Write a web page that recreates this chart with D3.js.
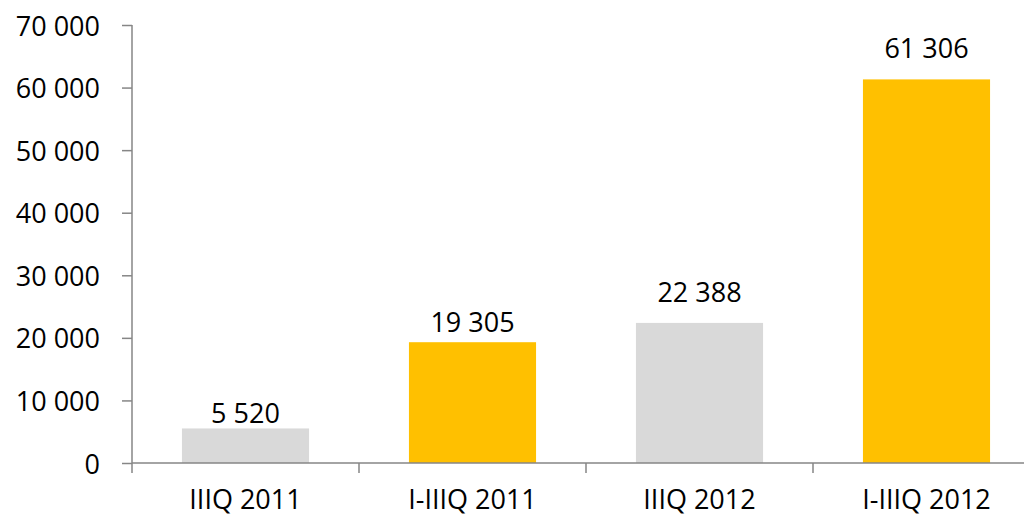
<!DOCTYPE html>
<html>
<head>
<meta charset="utf-8">
<script src="https://cdn.jsdelivr.net/npm/d3@7"></script>
<style>
    body { margin: 0; background: #ffffff; }
    svg { display: block; font-family: "Open Sans", sans-serif; }
    .axis path, .axis line { stroke: #868686; stroke-width: 1.5; }
</style>
</head>
<body>
<script>
//wrap everything in a self-executing anonymous function
(function(){

    //chart data
    var categories = ["IIIQ 2011", "I-IIIQ 2011", "IIIQ 2012", "I-IIIQ 2012"];
    var values = [5520, 19305, 22388, 61306];
    var yTicks = [0, 10000, 20000, 30000, 40000, 50000, 60000, 70000];

    //bar colours and label nudges (label distance above bar top)
    var barColors = ["#d9d9d9", "#ffc000", "#d9d9d9", "#ffc000"];
    var labelGap = [5, 10, 21, 21];

    window.onload = drawChart();

    function drawChart(){

        var width = 1024,
            height = 517;

        var svg = d3.select("body")
            .append("svg")
            .attr("width", width)
            .attr("height", height);

        //scales
        var x = d3.scaleBand()
            .domain(categories)
            .range([132, 1040])
            .paddingInner(0.44)
            .paddingOuter(0.22);

        var y = d3.scaleLinear()
            .domain([0, 70000])
            .range([463, 25]);

        //number format with space as thousands separator
        var fmt = function(v){
            return d3.format(",")(v).replace(/,/g, " ");
        };

        //bars
        svg.selectAll(".bar")
            .data(values)
            .enter()
            .append("rect")
            .attr("class", "bar")
            .attr("x", function(d, i){ return x(categories[i]); })
            .attr("y", function(d){ return y(d); })
            .attr("width", x.bandwidth())
            .attr("height", function(d){ return y(0) - y(d); })
            .style("fill", function(d, i){ return barColors[i]; });

        //y axis
        var yAxis = svg.append("g")
            .attr("class", "axis")
            .attr("transform", "translate(" + x.range()[0] + ",0)")
            .call(d3.axisLeft(y).tickValues(yTicks).tickSize(10).tickSizeOuter(10).tickFormat(fmt));

        yAxis.select(".domain").attr("d", "M0," + y(70000) + "V" + y(0));
        yAxis.selectAll("text")
            .attr("x", -32)
            .attr("dy", null)
            .attr("y", 10)
            .style("font-size", "27px")
            .style("font-family", "'Open Sans', sans-serif")
            .style("fill", "#000");

        //x axis line and boundary ticks
        var xAxis = svg.append("g").attr("class", "axis");
        xAxis.append("line")
            .attr("x1", x.range()[0])
            .attr("x2", x.range()[1])
            .attr("y1", y(0))
            .attr("y2", y(0));

        var boundaries = d3.range(categories.length + 1).map(function(i){
            return x.range()[0] + i * x.step();
        });
        xAxis.selectAll(".xtick")
            .data(boundaries)
            .enter()
            .append("line")
            .attr("class", "xtick")
            .attr("x1", function(d){ return d; })
            .attr("x2", function(d){ return d; })
            .attr("y1", y(0))
            .attr("y2", y(0) + 10);

        //category labels
        svg.selectAll(".catLabel")
            .data(categories)
            .enter()
            .append("text")
            .attr("class", "catLabel")
            .attr("x", function(d){ return x(d) + x.bandwidth() / 2; })
            .attr("y", 509)
            .attr("text-anchor", "middle")
            .style("font-size", "27px")
            .text(function(d){ return d; });

        //value labels
        svg.selectAll(".valLabel")
            .data(values)
            .enter()
            .append("text")
            .attr("class", "valLabel")
            .attr("x", function(d, i){ return x(categories[i]) + x.bandwidth() / 2; })
            .attr("y", function(d, i){ return y(d) - labelGap[i]; })
            .attr("text-anchor", "middle")
            .style("font-size", "27px")
            .text(function(d){ return fmt(d); });
    };
})();
</script>
</body>
</html>
